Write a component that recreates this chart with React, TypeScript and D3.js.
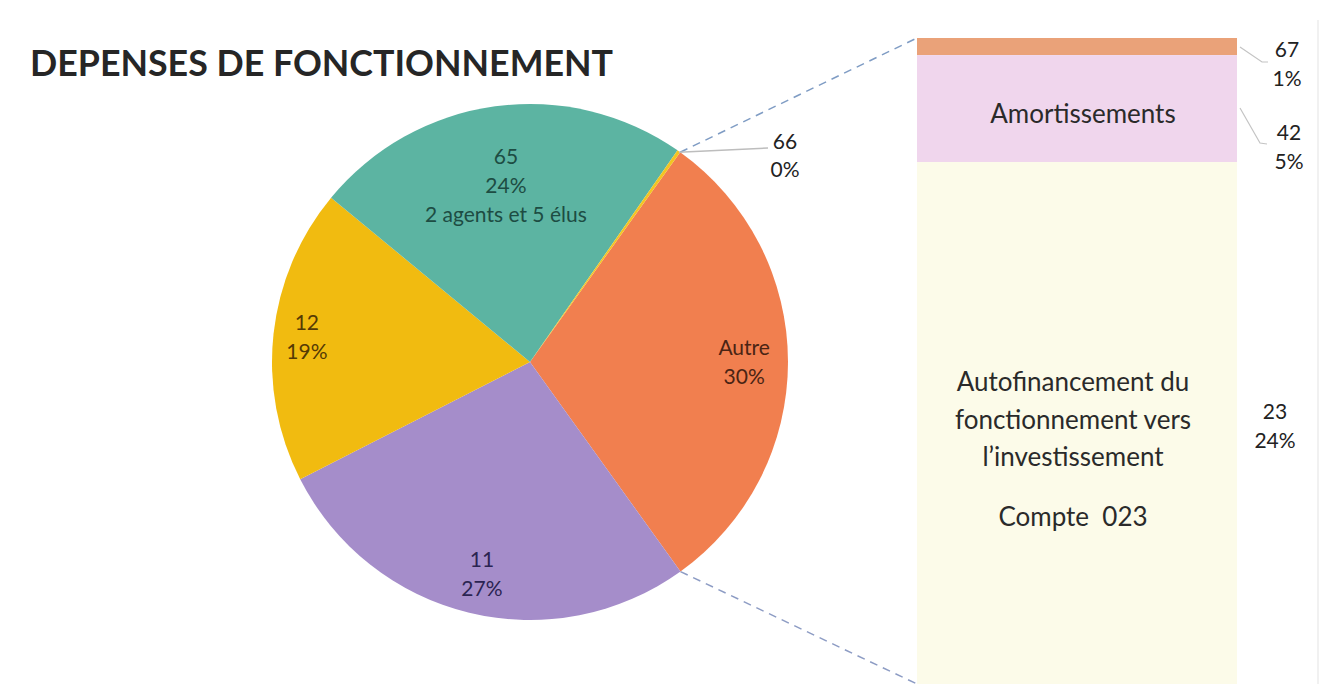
import React from "react";
import * as d3 from "d3";

// ---- data ----
const pieCategories = ["Autre", "11", "12", "65", "66"];
const pieValues = [30.2, 27.4, 18.5, 23.7, 0.2];
const pieExtraText = ["", "", "", "2 agents et 5 élus", ""];

const barCategories = ["67", "42", "23"];
const barValues = [0.8, 5.0, 24.4];
const barInnerText: string[][] = [
  [],
  ["Amortissements"],
  ["Autofinancement du", "fonctionnement vers", "l\u2019investissement", "", "Compte\u00a0\u00a0023"],
];

const titleText = "DEPENSES DE FONCTIONNEMENT";

// ---- styles ----
const W = 1323;
const H = 684;
const FONT = "Lato, 'Open Sans', sans-serif";
const pieColors: Record<string, string> = {
  Autre: "#f17f4f",
  "11": "#a58dca",
  "12": "#f1bb10",
  "65": "#5cb4a2",
  "66": "#f3c521",
};
const pieTextColors: Record<string, string> = {
  Autre: "#4a2414",
  "11": "#2b2452",
  "12": "#553a05",
  "65": "#1d4c43",
  "66": "#222",
};
const labelRadiusFactor: Record<string, number> = {
  Autre: 0.83,
  "11": 0.84,
  "12": 0.87,
  "65": 0.69,
};
const barColors: Record<string, string> = {
  "67": "#eaa279",
  "42": "#f0d6ed",
  "23": "#fcfbe9",
};

export default function App() {
  const cx = 530;
  const cy = 362;
  const r = 258;
  const startDeg = 35.6;

  const pieData = pieCategories.map((c, i) => ({ cat: c, value: pieValues[i], extra: pieExtraText[i] }));
  const total = d3.sum(pieValues);
  const pie = d3
    .pie<any>()
    .value((d) => d.value)
    .sort(null)
    .startAngle((startDeg * Math.PI) / 180)
    .endAngle((startDeg * Math.PI) / 180 + 2 * Math.PI);
  const arcs = pie(pieData);
  const arcGen = d3.arc<any>().innerRadius(0).outerRadius(r);

  // bar
  const barX0 = 917;
  const barX1 = 1237;
  const barTop = 38;
  const barBottom = 684;
  const barTotal = d3.sum(barValues);
  const yScale = d3.scaleLinear().domain([0, barTotal]).range([barTop, barBottom]);
  let acc = 0;
  const barSegs = barCategories.map((c, i) => {
    const y0 = yScale(acc);
    acc += barValues[i];
    const y1 = yScale(acc);
    return { cat: c, value: barValues[i], y0, y1, inner: barInnerText[i] };
  });

  const pct = (v: number) => `${Math.round((v / total) * 100 + 1e-9)}%`;

  const autreArc = arcs[0];
  const pt = (a: number) => [cx + r * Math.sin(a), cy - r * Math.cos(a)];
  const pTop = pt(autreArc.startAngle);
  const pBot = pt(autreArc.endAngle);

  const tiny = arcs[arcs.length - 1];
  const tinyMid = (tiny.startAngle + tiny.endAngle) / 2;
  const tinyPt = pt(tinyMid);

  const barLabelPos: Record<string, { x: number; y: number; leader?: number[][] }> = {
    "67": { x: 1287, y: 64, leader: [[1240, 47], [1262, 62], [1268, 62]] },
    "42": { x: 1289, y: 147, leader: [[1240, 108], [1260, 143], [1267, 144]] },
    "23": { x: 1275, y: 426 },
  };

  return (
    <svg
      width={W}
      height={H}
      style={{ position: "fixed", left: 0, top: 0, background: "#fff" }}
      fontFamily={FONT}
    >
      <rect x={0} y={0} width={W} height={H} fill="#fff" />
      <line x1={1318} y1={20} x2={1318} y2={684} stroke="#ececec" strokeWidth={1.5} />

      {/* title */}
      <text x={30} y={76} fontSize={36} fontWeight={700} fill="#262626" textLength={583} lengthAdjust="spacingAndGlyphs">
        {titleText}
      </text>

      {/* bar */}
      {barSegs.map((s) => (
        <rect key={s.cat} x={barX0} y={s.y0} width={barX1 - barX0} height={s.y1 - s.y0} fill={barColors[s.cat]} />
      ))}

      {/* connectors */}
      <line x1={pTop[0]} y1={pTop[1]} x2={barX0} y2={barTop} stroke="#7f9cc4" strokeWidth={1.5} strokeDasharray="8,6" />
      <line x1={pBot[0]} y1={pBot[1]} x2={barX0} y2={barBottom} stroke="#8d9cc4" strokeWidth={1.5} strokeDasharray="8,6" />

      {/* pie */}
      <g transform={`translate(${cx},${cy})`}>
        {arcs.map((a) => (
          <path key={a.data.cat} d={arcGen(a) as string} fill={pieColors[a.data.cat]} />
        ))}
      </g>

      {/* pie labels */}
      {arcs.map((a) => {
        const cat = a.data.cat;
        if (cat === "66") return null;
        const mid = (a.startAngle + a.endAngle) / 2;
        const lr = r * labelRadiusFactor[cat];
        const x = cx + lr * Math.sin(mid);
        const y = cy - lr * Math.cos(mid);
        const lines = [cat, pct(a.data.value)];
        if (a.data.extra) lines.push(a.data.extra);
        const lh = 29;
        const y0 = y - ((lines.length - 1) * lh) / 2;
        return (
          <text key={cat} textAnchor="middle" fontSize={21} fill={pieTextColors[cat]}>
            {lines.map((l, i) => (
              <tspan key={i} x={x + (cat === "11" ? 3 : 0)} y={y0 + i * lh + (cat === "11" ? 2 : 0)} dy="0.35em">
                {l}
              </tspan>
            ))}
          </text>
        );
      })}

      {/* 66 label */}
      <polyline
        points={`${tinyPt[0]},${tinyPt[1] + 1} 768,148`}
        fill="none"
        stroke="#bdbdbd"
        strokeWidth={1.5}
      />
      <text textAnchor="middle" fontSize={21} fill="#222">
        <tspan x={785} y={142} dy="0.35em">
          {pieCategories[4]}
        </tspan>
        <tspan x={785} y={170} dy="0.35em">
          {pct(pieValues[4])}
        </tspan>
      </text>

      {/* bar inner text */}
      {barSegs.map((s) => {
        if (!s.inner.length) return null;
        const midX = (barX0 + barX1) / 2;
        if (s.cat === "42") {
          return (
            <text key={s.cat} x={midX + 6} y={114} dy="0.35em" textAnchor="middle" fontSize={26} fill="#2a2a2a">
              {s.inner[0]}
            </text>
          );
        }
        const startY = 382;
        const lh = 37.5;
        return (
          <text key={s.cat} textAnchor="middle" fontSize={26} fill="#2a2a2a">
            {s.inner.map((l, i) => (
              <tspan key={i} x={midX - 4} y={startY + i * lh - (i === 4 ? 15 : 0)} dy="0.35em">
                {l}
              </tspan>
            ))}
          </text>
        );
      })}

      {/* bar labels */}
      {barSegs.map((s) => {
        const p = barLabelPos[s.cat];
        const pctText = `${Math.round((s.value / total) * 100 + 1e-9)}%`;
        return (
          <g key={s.cat}>
            {p.leader && (
              <polyline
                points={p.leader.map((q) => q.join(",")).join(" ")}
                fill="none"
                stroke="#c4c4c4"
                strokeWidth={1.2}
              />
            )}
            <text textAnchor="middle" fontSize={21} fill="#222">
              <tspan x={p.x} y={p.y - 14} dy="0.35em">
                {s.cat}
              </tspan>
              <tspan x={p.x} y={p.y + 15} dy="0.35em">
                {pctText}
              </tspan>
            </text>
          </g>
        );
      })}
    </svg>
  );
}
